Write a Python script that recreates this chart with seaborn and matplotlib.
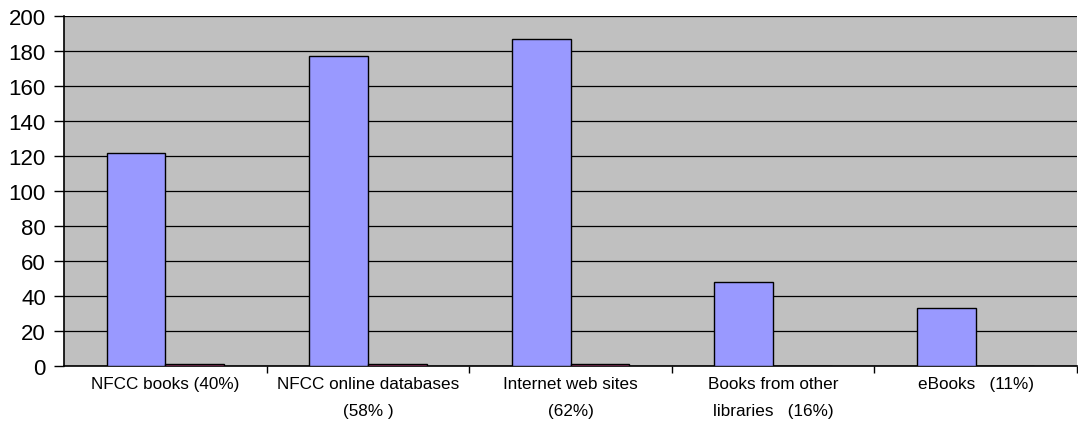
#!/usr/bin/env python3
# -*- coding: utf-8 -*-
"""
Library resources used - bar chart
"""

#%% Import modules

import pandas as pd
import seaborn as sns
import matplotlib.pyplot as plt
from matplotlib.ticker import FixedLocator


#%% Data

categories = ['NFCC books (40%)', 'NFCC online databases\n(58% )', 'Internet web sites\n(62%)',
              'Books from other\nlibraries   (16%)', 'eBooks   (11%)']
series_names = ['used', 'other']
used_counts = [122, 177, 187, 48, 33]
other_counts = [1, 1, 1, 0, 0]
y_ticks = [0, 20, 40, 60, 80, 100, 120, 140, 160, 180, 200]

df = pd.DataFrame({'category': categories * 2,
                   'series': [series_names[0]] * 5 + [series_names[1]] * 5,
                   'count': used_counts + other_counts})


#%% Plot

sns.set_style('white')
plt.rcParams['font.family'] = ['Liberation Sans', 'DejaVu Sans']

fig = plt.figure(figsize=(10.78, 4.27), dpi=100)
ax = fig.add_axes([64 / 1078, 1 - 367 / 427, 1013 / 1078, 350 / 427])
ax.set_facecolor('#C0C0C0')

sns.barplot(data=df, x='category', y='count', hue='series', palette=['#9999FF', '#993366'],
            saturation=1, width=0.58, gap=0, edgecolor='black', linewidth=1, legend=False,
            ax=ax, zorder=3)

ax.set_ylim(0, 200)
ax.set_xlim(-0.5, 4.5)
ax.set_yticks(y_ticks)
ax.yaxis.grid(True, color='black', linewidth=0.9, zorder=0)
ax.set_axisbelow(True)
ax.tick_params(axis='y', labelsize=16, labelcolor='black', length=7, width=1, color='black',
               direction='out', left=True, pad=6)
ax.tick_params(axis='x', which='major', labelsize=12.3, labelcolor='black', length=0, pad=7)
for lbl in ax.get_xticklabels():
    lbl.set_linespacing(2.0)
ax.xaxis.set_minor_locator(FixedLocator([0.5, 1.5, 2.5, 3.5, 4.5]))
ax.tick_params(axis='x', which='minor', length=5, width=1, color='black', direction='out', bottom=True)
ax.set_xlabel('')
ax.set_ylabel('')

for side in ['top', 'right']:
    ax.spines[side].set_visible(False)
for side in ['left', 'bottom']:
    ax.spines[side].set_color('black')
    ax.spines[side].set_linewidth(1.2)

fig.savefig('out.png', dpi=100)
